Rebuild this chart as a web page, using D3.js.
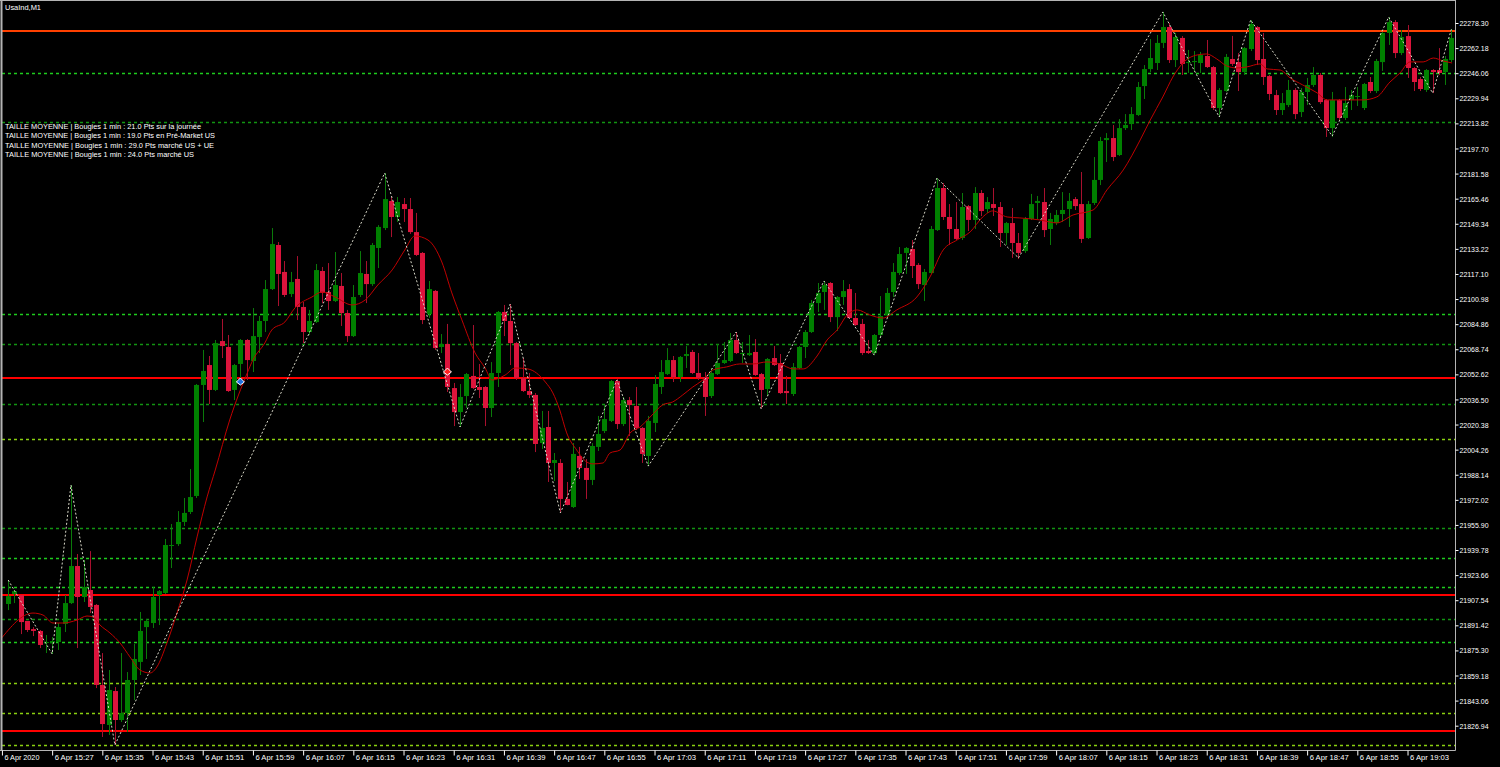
<!DOCTYPE html>
<html><head><meta charset="utf-8">
<script src="https://cdn.jsdelivr.net/npm/d3@7"></script>
<style>html,body{margin:0;padding:0;background:#000;overflow:hidden}</style>
</head><body>
<svg id="c" width="1500" height="767"></svg>
<script>
// ---- DATA ----
const symbolTitle = "UsaInd,M1";
const infoLines = [
  "TAILLE MOYENNE | Bougies 1 min : 21.0 Pts sur la journée",
  "TAILLE MOYENNE | Bougies 1 min : 19.0 Pts en Pré-Market US",
  "TAILLE MOYENNE | Bougies 1 min : 29.0 Pts marché US + UE",
  "TAILLE MOYENNE | Bougies 1 min : 24.0 Pts marché US"
];
const firstBarTime = "2020-04-06 15:20";
const open = [
21905.1,21911.5,21910.9,21894.2,21889.0,21887.8,21880.1,21880.1,21880.7,21892.3,
21905.7,21929.5,21909.6,21914.1,21904.5,21853.1,21827.4,21849.2,21830.6,21835.1,
21856.3,21867.9,21890.3,21892.9,21910.9,21912.2,21942.4,21943.6,21957.8,21964.2,
21974.5,22045.8,22058.6,22042.6,22074.0,22070.2,22042.6,22059.3,22074.7,22061.2,
22076.6,22086.9,22107.4,22135.7,22118.4,22104.2,22113.9,22095.9,22079.8,22086.2,
22119.0,22105.5,22099.7,22109.4,22092.0,22077.2,22103.6,22117.1,22110.6,22133.8,
22146.6,22164.0,22153.7,22162.0,22158.8,22144.0,22130.6,22091.4,22106.2,22070.2,
22072.1,22043.8,22028.4,22038.7,22051.6,22044.5,22044.5,22031.0,22053.5,22092.7,
22086.9,22072.7,22050.3,22041.9,22039.4,22008.5,22018.8,21995.7,21995.7,21972.6,
21967.4,22000.2,21992.5,21984.8,22006.0,22016.2,22022.7,22048.3,22020.7,22036.1,
22032.3,22018.2,22000.2,22021.4,22044.5,22052.8,22061.8,22050.9,22064.4,22067.0,
22053.5,22050.9,22038.7,22052.8,22059.9,22061.2,22074.7,22065.7,22065.0,22067.0,
22052.8,22043.2,22063.1,22059.9,22041.9,22040.0,22056.7,22070.2,22079.8,22098.4,
22105.5,22111.3,22089.4,22102.3,22107.4,22088.8,22085.0,22067.6,22066.3,22077.9,
22090.7,22105.5,22117.7,22130.6,22133.1,22122.9,22110.0,22117.7,22145.3,22172.3,
22153.7,22146.0,22140.2,22160.7,22151.8,22169.1,22158.8,22162.0,22160.1,22143.4,
22149.8,22137.0,22131.8,22152.4,22162.7,22163.3,22146.0,22149.8,22155.6,22158.8,
22165.2,22162.0,22140.2,22162.7,22177.5,22203.1,22204.4,22193.5,22210.8,22213.4,
22219.2,22237.8,22248.7,22252.6,22265.5,22275.7,22254.5,22268.7,22252.6,22253.2,
22252.6,22257.1,22250.0,22223.7,22234.6,22255.2,22253.2,22246.8,22261.6,22275.7,
22255.2,22244.2,22232.0,22222.4,22225.6,22235.3,22221.1,22234.0,22238.5,22244.9,
22228.8,22210.8,22228.8,22217.3,22228.8,22230.8,22223.7,22240.4,22234.6,22253.2,
22271.9,22278.9,22259.0,22269.9,22249.4,22242.3,22235.3,22248.1,22248.1,22246.8,22254.5];
const high = [
21920.5,21914.1,21910.9,21894.2,21890.3,21888.4,21885.2,21883.9,21892.9,21910.9,
21981.5,21937.2,21933.4,21939.1,21905.1,21873.6,21862.7,21851.8,21873.6,21861.4,
21879.4,21900.0,21895.5,21916.0,21914.1,21946.9,21956.5,21964.8,21973.2,21991.8,
22046.4,22068.3,22064.4,22074.7,22088.2,22077.9,22059.3,22075.3,22075.3,22095.2,
22090.1,22113.2,22146.6,22137.6,22125.4,22118.4,22128.6,22099.1,22094.0,22123.5,
22121.6,22124.1,22131.2,22117.7,22094.0,22110.0,22131.8,22125.4,22137.0,22148.5,
22181.9,22166.5,22166.5,22165.9,22165.9,22156.3,22131.2,22112.6,22106.8,22078.5,
22085.0,22047.1,22046.4,22053.5,22084.3,22059.3,22045.1,22060.5,22093.3,22097.2,
22097.8,22073.4,22063.1,22053.5,22040.6,22029.1,22029.1,22002.1,21998.2,21983.5,
22008.5,22006.0,21998.2,22008.5,22025.9,22032.9,22049.0,22049.6,22038.1,22038.1,
22044.5,22018.8,22025.9,22052.2,22061.8,22069.5,22064.4,22064.4,22070.8,22068.3,
22066.3,22054.1,22056.7,22072.1,22073.4,22079.2,22079.8,22073.4,22077.9,22075.3,
22053.5,22063.1,22070.8,22065.7,22051.6,22059.9,22070.8,22081.1,22100.4,22111.3,
22112.6,22111.9,22102.9,22113.2,22110.6,22104.9,22088.2,22074.7,22078.5,22102.9,
22108.1,22124.1,22134.4,22134.4,22138.9,22124.1,22120.3,22147.9,22178.7,22175.5,
22162.0,22163.3,22169.1,22161.4,22172.9,22171.0,22166.5,22172.3,22163.3,22150.5,
22159.5,22143.4,22153.7,22168.5,22167.2,22172.3,22156.3,22158.2,22169.7,22169.1,
22166.5,22182.6,22164.0,22192.2,22205.1,22207.6,22212.8,22216.6,22219.8,22224.3,
22240.4,22251.3,22268.0,22270.6,22285.4,22278.3,22271.9,22269.9,22261.0,22260.3,
22259.7,22267.4,22250.7,22236.5,22258.4,22270.0,22259.0,22262.9,22280.2,22276.4,
22271.9,22244.9,22235.3,22233.3,22241.7,22236.5,22236.5,22243.0,22250.0,22246.2,
22229.5,22234.0,22229.5,22237.2,22235.3,22237.2,22239.8,22243.6,22255.2,22272.5,
22282.1,22280.2,22273.8,22277.0,22250.0,22243.6,22248.7,22248.7,22262.2,22257.1,22274.4];
const low = [
21901.2,21905.7,21885.8,21887.1,21884.5,21876.8,21873.6,21873.0,21875.6,21887.1,
21905.1,21876.8,21906.4,21899.3,21851.1,21819.7,21821.0,21814.5,21829.3,21822.9,
21843.4,21859.5,21869.8,21889.7,21891.6,21911.5,21928.2,21942.4,21955.2,21962.9,
21973.2,22022.0,22033.6,22041.9,22063.1,22041.3,22036.1,22047.7,22049.0,22054.1,
22066.3,22079.8,22106.8,22096.5,22102.3,22102.3,22087.5,22072.7,22077.9,22085.6,
22098.4,22094.0,22099.1,22083.7,22073.4,22076.6,22102.3,22098.4,22109.4,22120.9,
22145.3,22140.8,22150.5,22150.5,22142.8,22128.6,22084.9,22088.8,22068.3,22066.3,
22041.3,22019.4,22018.8,22031.0,22043.2,22037.4,22019.4,22025.2,22044.5,22077.2,
22058.6,22049.0,22041.3,22037.4,22002.7,22004.7,21983.5,21984.1,21963.6,21968.5,
21966.8,21985.4,21972.6,21981.5,22003.4,22014.9,22022.0,22017.5,22019.4,22013.0,
22016.9,21995.7,21993.7,22015.6,22040.0,22052.2,22047.7,22047.7,22056.7,22052.8,
22049.0,22025.9,22037.4,22052.2,22059.3,22060.5,22065.7,22059.9,22064.4,22051.6,
22031.0,22038.7,22058.0,22040.0,22033.6,22038.7,22056.0,22063.1,22079.2,22092.7,
22094.0,22086.2,22080.5,22097.2,22088.2,22083.7,22065.0,22065.7,22065.0,22076.6,
22088.8,22102.3,22116.4,22117.1,22114.5,22107.4,22099.7,22117.1,22144.7,22151.8,
22135.7,22138.9,22138.9,22144.7,22146.0,22154.3,22156.3,22154.3,22134.4,22135.7,
22127.4,22126.7,22130.6,22151.8,22152.4,22140.8,22135.7,22148.5,22150.5,22147.3,
22158.2,22137.0,22139.6,22161.4,22174.2,22189.0,22189.6,22192.9,22209.6,22209.6,
22218.6,22229.5,22246.8,22248.1,22262.2,22252.6,22250.0,22244.9,22246.2,22246.8,
22246.2,22249.4,22222.4,22217.9,22234.0,22250.7,22234.6,22244.9,22260.3,22251.3,
22238.5,22228.8,22219.2,22219.2,22224.3,22216.6,22217.9,22225.6,22237.2,22226.3,
22205.1,22205.1,22216.0,22216.0,22222.4,22225.0,22222.4,22233.3,22233.3,22247.5,
22264.2,22255.8,22257.7,22243.0,22234.6,22234.6,22234.0,22233.3,22244.9,22238.5,22253.2];
const close = [
21910.2,21913.4,21893.5,21888.4,21887.8,21878.8,21880.7,21881.3,21890.3,21905.7,
21929.5,21909.6,21916.0,21903.2,21853.1,21828.0,21849.9,21830.6,21835.1,21856.3,
21869.8,21887.8,21894.2,21909.6,21913.4,21943.0,21943.0,21957.8,21963.6,21973.8,
22045.8,22054.8,22042.6,22072.7,22070.8,22041.9,22058.6,22074.7,22061.8,22077.2,
22086.9,22107.4,22136.3,22117.1,22103.6,22111.9,22095.9,22079.8,22086.9,22119.6,
22104.9,22099.7,22110.0,22092.0,22077.2,22102.3,22117.7,22110.6,22135.7,22147.3,
22165.2,22153.7,22163.3,22158.8,22144.0,22129.3,22087.5,22107.4,22069.5,22072.1,
22044.5,22028.4,22038.1,22052.8,22043.8,22042.6,22031.0,22053.5,22092.7,22086.9,
22072.7,22050.3,22041.9,22039.4,22007.9,22018.2,21995.7,21997.6,21972.6,21968.7,
22001.5,21992.5,21984.8,22006.6,22014.3,22023.9,22048.3,22020.7,22036.1,22032.9,
22018.2,22001.5,22022.7,22046.4,22054.1,22061.8,22050.9,22063.8,22065.7,22053.5,
22050.3,22038.1,22053.5,22059.9,22061.8,22074.7,22066.3,22066.3,22066.3,22052.2,
22042.6,22062.5,22058.6,22040.6,22040.6,22057.3,22070.2,22079.8,22098.4,22104.9,
22110.0,22089.4,22102.3,22106.1,22088.8,22084.3,22066.3,22066.3,22077.9,22090.1,
22104.9,22118.4,22129.9,22133.8,22122.2,22110.6,22118.4,22146.0,22172.3,22153.7,
22146.0,22139.6,22160.1,22151.8,22169.1,22157.5,22163.3,22159.5,22143.4,22149.8,
22137.0,22130.6,22152.4,22162.0,22164.0,22145.3,22152.4,22155.0,22158.2,22164.0,
22160.7,22139.6,22162.0,22177.5,22202.5,22204.4,22192.2,22210.8,22212.8,22219.8,
22237.2,22248.7,22255.8,22265.5,22275.7,22254.5,22269.3,22252.0,22253.2,22253.9,
22257.7,22250.0,22223.7,22235.3,22256.5,22252.0,22246.8,22262.2,22277.7,22254.5,
22243.6,22232.7,22222.4,22226.9,22235.3,22219.8,22234.0,22238.5,22244.9,22227.5,
22210.8,22228.8,22217.3,22226.9,22232.0,22231.4,22239.1,22234.6,22253.9,22271.9,
22278.9,22259.0,22269.3,22249.4,22240.4,22235.9,22248.1,22246.8,22246.2,22255.2,22268.7];

// moving average: bar number -> value
const maBars = [-1.3,3.95,5.55,7.14,8.73,10.96,12.56,13.51,14.63,16.22,17.82,19.41,21.0,22.6,23.7,25.3,26.9,28.5,30.1,31.7,33.0,35.3,38.1,39.0,40.9,42.0,44.1,45.7,48.4,50.0,52.1,54.8,56.9,58.9,61.2,63.2,64.8,66.9,69.1,70.7,72.3,74.4,76.0,77.1,79.2,80.8,82.8,85.6,86.8,87.9,89.0,90.6,92.2,93.2,94.8,95.9,97.5,99.1,100.7,102.3,104.3,105.9,107.5,109.1,110.7,112.3,114.5,116.6,118.7,120.9,123.0,125.1,126.7,128.9,130.5,132.1,133.7,135.3,137.3,139.4,141.6,144.8,146.9,149.0,151.2,153.3,155.3,156.9,159.2,161.2,164.4,167.1,169.7,172.9,175.1,177.7,180.4,182.0,184.0,185.6,187.2,189.5,191.0,192.6,194.2,195.8,197.4,199.5,200.6,202.7,204.3,206.3,208.6,210.2,213.4,215.9,218.1,220.2,221.8,223.4,225.5,227.1,228.7,230.1];
const maValues = [21882.0,21899.3,21898.0,21892.9,21892.9,21894.8,21897.4,21896.8,21891.6,21886.5,21880.1,21871.1,21862.7,21860.8,21864.7,21880.1,21899.3,21920.5,21948.2,21973.9,21991.2,22023.3,22053.5,22061.9,22072.8,22081.1,22086.3,22095.3,22102.3,22105.5,22102.3,22097.2,22100.4,22110.0,22119.7,22132.5,22141.5,22138.9,22124.8,22104.9,22087.6,22066.4,22056.7,22049.0,22052.2,22056.7,22056.1,22047.7,22040.7,22029.7,22015.0,22004.0,21996.3,21995.1,21995.7,22002.1,22004.0,22015.0,22018.8,22025.2,22033.0,22034.9,22039.4,22044.5,22049.0,22055.4,22057.4,22059.3,22059.3,22060.6,22059.3,22056.1,22056.1,22064.4,22074.7,22081.1,22090.8,22094.0,22090.8,22088.8,22094.0,22102.3,22115.2,22132.5,22138.9,22144.1,22153.7,22157.6,22153.7,22153.1,22151.8,22149.9,22155.0,22158.2,22171.1,22183.9,22203.2,22216.0,22230.8,22243.6,22252.6,22257.8,22258.4,22255.2,22250.7,22249.4,22250.1,22252.0,22248.8,22248.1,22243.0,22238.5,22233.4,22228.9,22228.9,22228.9,22230.8,22240.4,22246.2,22253.3,22253.3,22255.8,22253.9,22252.6];

// zigzag pivots: bar number -> price
const zigzagBars = [0,7,10,17,60,72,80,88,97,102,116,120,130,138,148,161,184,193,198,211,220,227,230];
const zigzagPrices = [21920.5,21873.0,21981.5,21814.5,22181.9,22018.8,22097.8,21963.6,22049.0,21993.7,22079.8,22030.4,22112.6,22065.0,22178.7,22127.4,22285.4,22217.9,22280.2,22205.7,22282.1,22233.3,22274.4];

// horizontal levels
const levelPrices = [22273.2,22246.2,22214.7,22091.4,22072.1,22050.3,22033.6,22011.1,21953.9,21934.7,21916.0,21910.9,21895.5,21880.7,21854.4,21835.1,21823.5,21814.5];
const levelKinds  = ["orange","lime","dark","lime","dark","red","dark","yellow","dark","lime","lime","red","dark","lime","yellow","yellow","red","yellow"];

// trade marks
const markBars = [37,70];
const markPrices = [22047.7,22054.1];
const markKinds = ["buy","sell"];

// axis labels
const priceTicks = [22278.30,22262.18,22246.06,22229.94,22213.82,22197.70,22181.58,22165.46,22149.34,22133.22,22117.10,22100.98,22084.86,22068.74,22052.62,22036.50,22020.38,22004.26,21988.14,21972.02,21955.90,21939.78,21923.66,21907.54,21891.42,21875.30,21859.18,21843.06,21826.94];
const timeTickLabels = ["6 Apr 2020","6 Apr 15:27","6 Apr 15:35","6 Apr 15:43","6 Apr 15:51","6 Apr 15:59","6 Apr 16:07","6 Apr 16:15","6 Apr 16:23","6 Apr 16:31","6 Apr 16:39","6 Apr 16:47","6 Apr 16:55","6 Apr 17:03","6 Apr 17:11","6 Apr 17:19","6 Apr 17:27","6 Apr 17:35","6 Apr 17:43","6 Apr 17:51","6 Apr 17:59","6 Apr 18:07","6 Apr 18:15","6 Apr 18:23","6 Apr 18:31","6 Apr 18:39","6 Apr 18:47","6 Apr 18:55","6 Apr 19:03"];

// ---- STYLE / LAYOUT ----
const W = 1500, H = 767;
const plot = {left: 2, right: 1455, top: 1, bottom: 750};
const FONT = "'Liberation Sans', Arial, sans-serif";
const levelStyle = {
  orange: {stroke: "#ff4000", width: 2, dash: null},
  red:    {stroke: "#ff0000", width: 2, dash: null},
  lime:   {stroke: "#1ecc1e", width: 1.4, dash: "3,3"},
  dark:   {stroke: "#129412", width: 1.5, dash: "3,3"},
  yellow: {stroke: "#8ad010", width: 1.4, dash: "3,3"}
};

const svg = d3.select("#c");
svg.append("rect").attr("width", W).attr("height", H).attr("fill", "#000");

const t0 = d3.timeParse("%Y-%m-%d %H:%M")(firstBarTime);
const times = open.map((_, i) => d3.timeMinute.offset(t0, i));
const fmt = d3.timeFormat("%-d %b %H:%M");

const x = d3.scaleLinear().domain([0, open.length - 1]).range([8.2, 1451.45]);
const y = d3.scaleLinear().domain([21826.94, 22278.30]).range([725.7, 23.0]);

svg.append("clipPath").attr("id", "clip").append("rect")
  .attr("x", plot.left).attr("y", plot.top).attr("width", plot.right - plot.left).attr("height", plot.bottom - plot.top);
const g = svg.append("g").attr("clip-path", "url(#clip)");

// levels
levelPrices.forEach((p, i) => {
  const s = levelStyle[levelKinds[i]];
  const yy = Math.round(y(p)) + (s.dash ? 0.5 : 0);
  g.append("line").attr("x1", plot.left).attr("x2", plot.right).attr("y1", yy).attr("y2", yy)
    .attr("stroke", s.stroke).attr("stroke-width", s.width)
    .attr("stroke-dasharray", s.dash);
});

// candles
const bars = open.map((o, i) => ({i, o, h: high[i], l: low[i], c: close[i]}));
const cg = g.append("g");
bars.forEach(d => {
  const up = d.c >= d.o;
  const cx = Math.round(x(d.i)) + 0.5;
  const hi = Math.max(d.h, d.o, d.c), lo = Math.min(d.l, d.o, d.c);
  cg.append("line").attr("x1", cx).attr("x2", cx).attr("y1", y(hi)).attr("y2", y(lo))
    .attr("stroke", up ? "#0a7a0a" : "#a8102e").attr("stroke-width", 1);
  const yt = y(Math.max(d.o, d.c)), yb = y(Math.min(d.o, d.c));
  cg.append("rect").attr("x", cx - 2.5).attr("width", 5)
    .attr("y", yt).attr("height", Math.max(1, yb - yt))
    .attr("fill", up ? "#008000" : "#dc143c");
});

// moving average
g.append("path").datum(maBars.map((b, i) => [b, maValues[i]]))
  .attr("fill", "none").attr("stroke", "#c00000").attr("stroke-width", 1)
  .attr("d", d3.line().x(d => x(d[0])).y(d => y(d[1])).curve(d3.curveMonotoneX));

// zigzag
g.append("path").datum(zigzagBars.map((b, i) => [b, zigzagPrices[i]]))
  .attr("fill", "none").attr("stroke", "#d8d8c8").attr("stroke-width", 1)
  .attr("stroke-dasharray", "2,2")
  .attr("d", d3.line().x(d => x(d[0])).y(d => y(d[1])));

// trade marks
markBars.forEach((b, i) => {
  const mx = x(b), my = y(markPrices[i]);
  g.append("path").attr("d", `M${mx},${my-4}L${mx+4},${my}L${mx},${my+3}L${mx-4},${my}Z`)
    .attr("fill", markKinds[i] === "buy" ? "#1f6fe0" : "#ff2020")
    .attr("stroke", "#ffffff").attr("stroke-width", 1);
});

// frame
const frameColor = "#b4b4b4";
svg.append("line").attr("x1", 1.5).attr("x2", 1.5).attr("y1", 0).attr("y2", plot.bottom).attr("stroke", frameColor).attr("stroke-width", 2);
svg.append("line").attr("x1", 0).attr("x2", plot.right).attr("y1", 0.5).attr("y2", 0.5).attr("stroke", frameColor).attr("stroke-width", 1);
svg.append("line").attr("x1", 0).attr("x2", plot.right + 0.5).attr("y1", plot.bottom + 0.5).attr("y2", plot.bottom + 0.5).attr("stroke", frameColor);

// right price axis
const ya = svg.append("g").attr("transform", `translate(${plot.right + 0.5},0)`)
  .call(d3.axisRight(y).tickValues(priceTicks).tickFormat(d3.format(".2f")).tickSize(3).tickPadding(1));
ya.select(".domain").attr("stroke", frameColor).attr("d", `M0,0V${plot.bottom + 0.5}`);
ya.selectAll(".tick line").attr("stroke", "#ffffff");
ya.selectAll("text").attr("fill", "#ffffff").attr("font-family", FONT).attr("font-size", "8px")
  .attr("textLength", 29).attr("lengthAdjust", "spacingAndGlyphs");

// bottom time axis
const tickBars = timeTickLabels.map(lbl => {
  const k = times.findIndex(t => fmt(t) === lbl);
  return k < 0 ? -1 : k;
});
const xa = svg.append("g").attr("transform", `translate(0,${plot.bottom + 0.5})`)
  .call(d3.axisBottom(x).tickValues(tickBars).tickFormat((d, i) => timeTickLabels[i]).tickSize(5).tickPadding(2));
xa.select(".domain").remove();
xa.selectAll(".tick line").attr("stroke", "#ffffff");
xa.selectAll("text").attr("fill", "#ffffff").attr("font-family", FONT).attr("font-size", "8px")
  .attr("text-anchor", "start").attr("dx", 2).attr("y", 4).attr("dy", "0.71em")
  .attr("textLength", (d, i) => i === 0 ? 35 : 39).attr("lengthAdjust", "spacingAndGlyphs");

// titles
svg.append("text").attr("x", 5).attr("y", 10).attr("fill", "#fff").attr("font-family", FONT)
  .attr("font-size", "8px").attr("textLength", 36).attr("lengthAdjust", "spacingAndGlyphs").text(symbolTitle);
const infoBase = [129, 138.3, 147.6, 157];
const infoLen = [196, 210, 209, 189];
infoLines.forEach((t, i) => {
  svg.append("text").attr("x", 5).attr("y", infoBase[i]).attr("fill", "#fff").attr("font-family", FONT)
    .attr("font-size", "7.5px").attr("textLength", infoLen[i]).attr("lengthAdjust", "spacingAndGlyphs").text(t);
});
</script>
</body></html>
